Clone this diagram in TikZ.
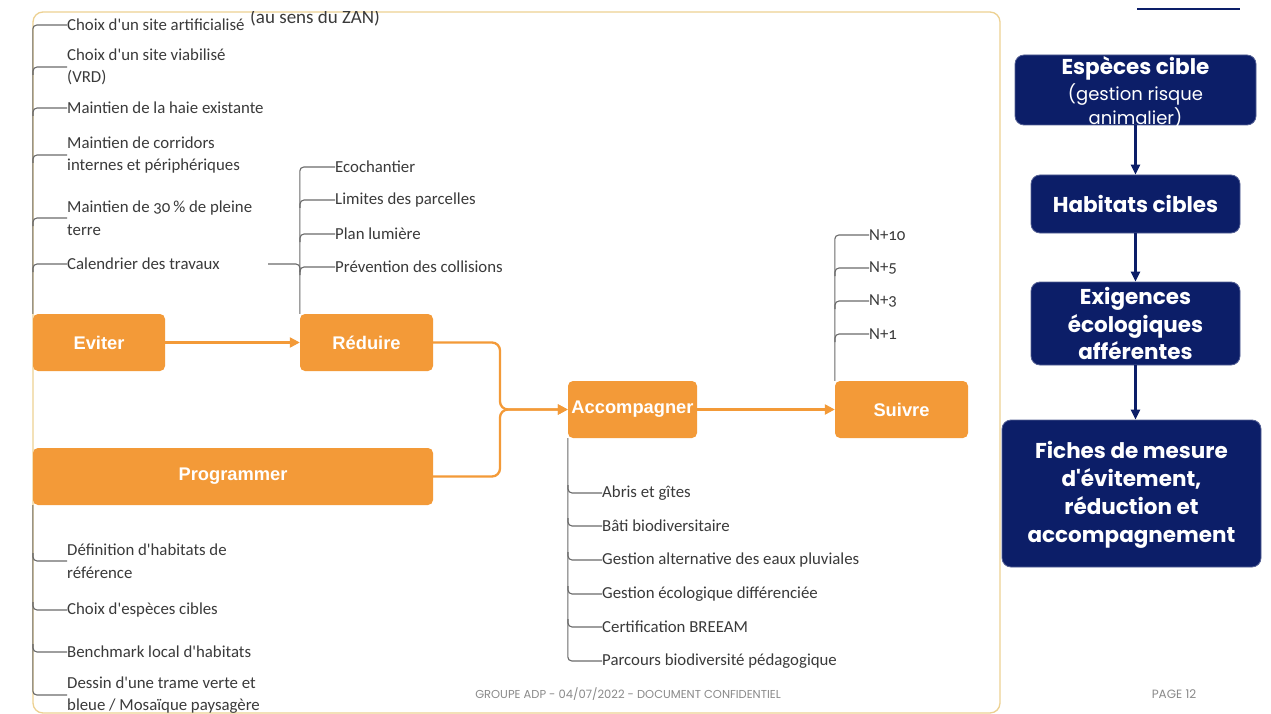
\documentclass[tikz,border=0pt]{standalone}
\usepackage{fontspec}
\setmainfont{Carlito}[Numbers=OldStyle,Ligatures=TeXOff]
\newfontfamily\boxfont{Liberation Sans}
\newfontfamily\navyfont{Poppins}
\usetikzlibrary{arrows.meta}
\definecolor{orng}{HTML}{F39A38}
\definecolor{navy}{HTML}{0C1E68}
\definecolor{txt}{HTML}{3A3A3A}
\definecolor{brc}{HTML}{6A6A6A}
\definecolor{frm}{HTML}{EDD192}
\definecolor{foot}{HTML}{8A8A8A}
\begin{document}
\begin{tikzpicture}[x=1pt,y=-1pt,
 obox/.style={fill=orng, rounded corners=5pt, text=white, font=\boxfont\bfseries\fontsize{18.3}{21}\selectfont, inner sep=0pt},
 nbox/.style={fill=navy, draw=navy!70!white, line width=0.8pt, rounded corners=9pt, inner sep=0pt},
 ntxt/.style={text=white, font=\navyfont\bfseries\fontsize{21.5}{28}\selectfont, align=center, inner sep=0pt},
 nsmall/.style={text=white, font=\navyfont\fontsize{18}{24}\selectfont, align=center, inner sep=0pt},
 item/.style={anchor=west, text=txt, font=\fontsize{16.8}{22.5}\selectfont, align=left, inner sep=0pt},
 br/.style={draw=brc, line width=1.1pt, rounded corners=4pt},
 oarr/.style={draw=orng, line width=2.3pt, rounded corners=8pt, -{Triangle[length=10pt,width=10pt]}},
 narr/.style={draw=navy, line width=2.3pt, -{Triangle[length=10pt,width=9pt]}},
 footer/.style={text=foot, font=\navyfont\fontsize{11.5}{13}\selectfont, inner sep=0pt},
]
\useasboundingbox (0,0) rectangle (1271,714);
\fill[white] (0,0) rectangle (1271,714);

% frame
\node[draw=frm, line width=1.3pt, rounded corners=10pt, minimum width=967, minimum height=701, inner sep=0pt] (frame) at (516.5,362.5) {};
\begin{scope}
\clip (0,11.5) rectangle (1271,40);
\node[anchor=base west, text=txt, font=\fontsize{19}{21}\selectfont, inner sep=0pt] (zan) at (250,24) {(au sens du ZAN)};
\end{scope}
\draw[navy, line width=2pt] (1137,9) -- (1240,9);

% orange boxes
\node[obox, minimum width=132, minimum height=57] (eviter) at (99,342.5) {Eviter};
\node[obox, minimum width=133, minimum height=57] (reduire) at (366.5,342.5) {Réduire};
\node[obox, minimum width=400, minimum height=57] (prog) at (233,476.5) {Programmer};
\node[obox, minimum width=129, minimum height=57] (accomp) at (632.5,409.5) {Accompagner};
\node[obox, minimum width=133, minimum height=57] (suivre) at (901.5,409.5) {Suivre};
\coordinate (join) at (500,409.5);

\draw[oarr] (eviter) -- (reduire);
\draw[oarr] (reduire.east) -| (join) -- (accomp.west);
\draw[oarr] (prog.east) -| (join) -- (accomp.west);
\draw[oarr] (accomp) -- (suivre);

% Eviter items
\node[item] (e1) at (67,25) {Choix d'un site artificialisé};
\node[item] (e2) at (67,67) {Choix d'un site viabilisé\\(VRD)};
\node[item] (e3) at (67,108) {Maintien de la haie existante};
\node[item] (e4) at (67,155) {Maintien de corridors\\internes et périphériques};
\node[item] (e5) at (67,218) {Maintien de 30\,\% de pleine\\terre};
\node[item] (e6) at (67,264) {Calendrier des travaux};
\draw[br] (eviter.north west) |- (e1.west);
\foreach \n in {e2,e3,e4,e5,e6} \draw[br] (\n.west) -| ++(-34,8);

% Reduire items
\node[item] (r1) at (335,167) {Ecochantier};
\node[item] (r2) at (335,200) {Limites des parcelles};
\node[item] (r3) at (335,234) {Plan lumière};
\node[item] (r4) at (335,267) {Prévention des collisions};
\draw[br] (reduire.north west) |- (r1.west);
\foreach \n in {r2,r3,r4} \draw[br] (\n.west) -| ++(-35,8);
\coordinate (cal) at (268,264);
\draw[br] (cal) -| ++(32,8);

% Suivre items
\node[item] (s1) at (869,235) {N+10};
\node[item] (s2) at (869,268) {N+5};
\node[item] (s3) at (869,301) {N+3};
\node[item] (s4) at (869,334) {N+1};
\draw[br] (suivre.north west) |- (s1.west);
\foreach \n in {s2,s3,s4} \draw[br] (\n.west) -| ++(-34,8);

% Accompagner items
\node[item] (a1) at (602,493) {Abris et gîtes};
\node[item] (a2) at (602,526) {Bâti biodiversitaire};
\node[item] (a3) at (602,560) {Gestion alternative des eaux pluviales};
\node[item] (a4) at (602,594) {Gestion écologique différenciée};
\node[item] (a5) at (602,627) {Certification BREEAM};
\node[item] (a6) at (602,661) {Parcours biodiversité pédagogique};
\draw[br] (accomp.south west) |- (a6.west);
\foreach \n in {a1,a2,a3,a4,a5} \draw[br] (\n.west) -| ++(-34,-8);

% Programmer items
\node[item] (p1) at (67,561) {Définition d'habitats de\\référence};
\node[item] (p2) at (67,610) {Choix d'espèces cibles};
\node[item] (p3) at (67,652) {Benchmark local d'habitats};
\node[item] (p4) at (67,695) {Dessin d'une trame verte et\\bleue / Mosaïque paysagère};
\draw[br] (prog.south west) |- (p4.west);
\foreach \n in {p1,p2,p3} \draw[br] (\n.west) -| ++(-34,-8);

% footer
\node[footer] (foottxt) at (628,694) {GROUPE ADP - 04/07/2022 - DOCUMENT CONFIDENTIEL};
\node[footer, font=\navyfont\fontsize{12}{14}\selectfont] (page) at (1174,694) {PAGE 12};

% navy column
\node[nbox, minimum width=241, minimum height=70] (esp) at (1135.5,90) {};
\node[nbox, minimum width=209, minimum height=58] (hab) at (1135.5,204) {};
\node[nbox, minimum width=209, minimum height=83] (exi) at (1135.5,323.5) {};
\node[nbox, minimum width=259, minimum height=147] (fic) at (1131.5,493.5) {};
\node[ntxt] (esp1) at (1135.5,68) {Espèces cible};
\node[nsmall] (esp2) at (1135.5,106) {(gestion risque\\animalier)};
\node[ntxt] (hab1) at (hab) {Habitats cibles};
\node[ntxt, font=\navyfont\bfseries\fontsize{21.5}{27.5}\selectfont] (exi1) at (exi) {Exigences\\écologiques\\afférentes};
\node[ntxt] (fic1) at (1131.5,495) {Fiches de mesure\\d'évitement,\\réduction et\\accompagnement};
\draw[narr] (esp.south) -- (hab.north);
\draw[narr] (hab.south) -- (exi.north);
\draw[narr] (exi.south) -- (exi.south |- fic.north);
\end{tikzpicture}
\end{document}
